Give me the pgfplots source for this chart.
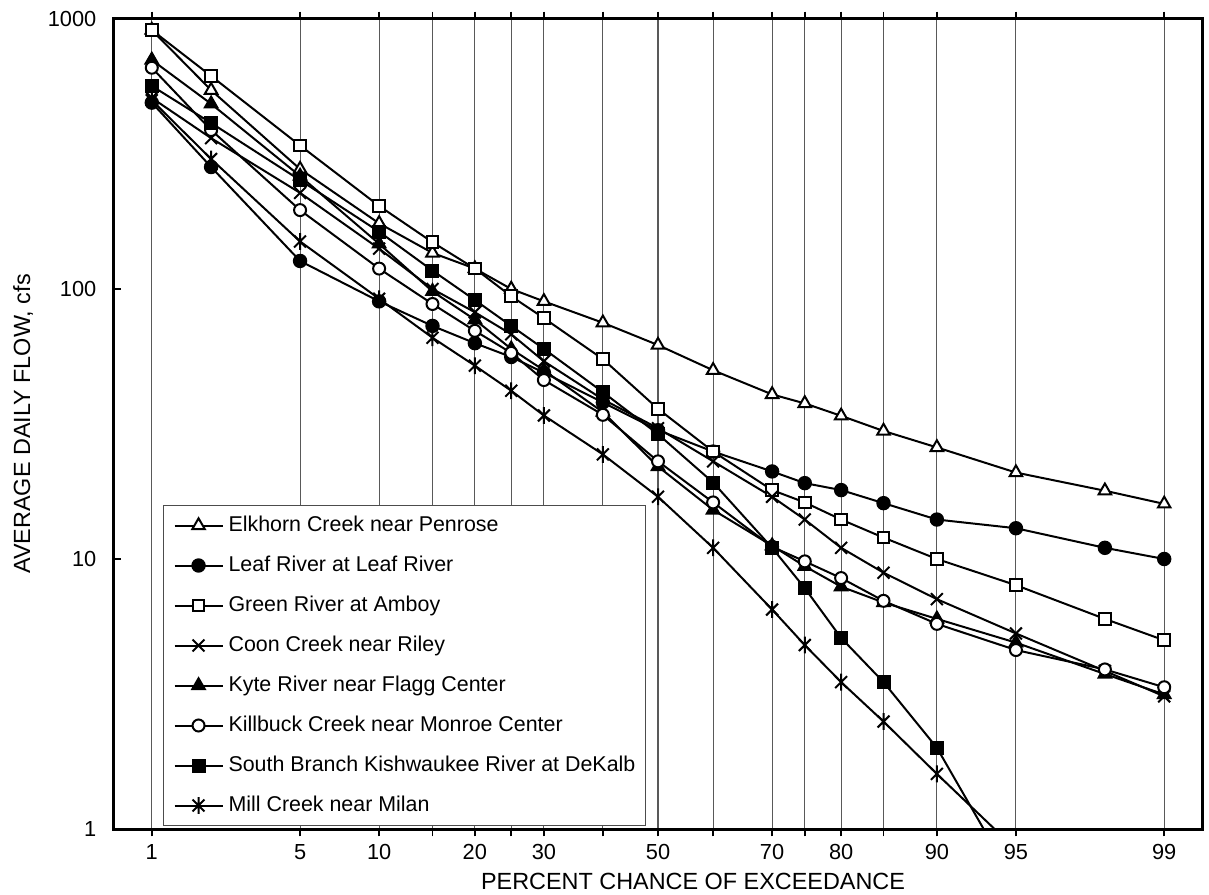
\documentclass[border=0pt]{standalone}
\usepackage{fontspec}
\setmainfont{Liberation Sans}
\usepackage{pgfplots}
\usepackage{pgfplotstable}
\pgfplotsset{compat=1.18}
\pgfdeclareplotmark{xast}{%
  \pgfpathmoveto{\pgfqpoint{-.7071\pgfplotmarksize}{-.7071\pgfplotmarksize}}%
  \pgfpathlineto{\pgfqpoint{.7071\pgfplotmarksize}{.7071\pgfplotmarksize}}%
  \pgfpathmoveto{\pgfqpoint{-.7071\pgfplotmarksize}{.7071\pgfplotmarksize}}%
  \pgfpathlineto{\pgfqpoint{.7071\pgfplotmarksize}{-.7071\pgfplotmarksize}}%
  \pgfpathmoveto{\pgfqpoint{0pt}{-\pgfplotmarksize}}%
  \pgfpathlineto{\pgfqpoint{0pt}{\pgfplotmarksize}}%
  \pgfusepathqstroke}
% z = standard normal quantile of the percent chance of exceedance p
\pgfplotstableread{
p  z       elk   leaf  green coon  kyte  kill  sb    mill
1  -2.3263 910   490   910   510   705   660   565   500
2  -2.0537 545   283   615   362   485   388   412   303
5  -1.6449 278   127   340   227   262   196   253   150
10 -1.2816 175   90    203   141   147   119   163   92
15 -1.0364 136   73    149   100   98    88    117   66
20 -0.8416 119   63    119   82    77    70    91    52
25 -0.6745 100   56    94    68    60    58    73    42
30 -0.5244 90    49    78    54    50    46    60    34
40 -0.2533 75    38    55    39    35    34.2  41.5  24.4
50  0      62    30    36    30.5  22    23    29    17
60  0.2533 50    25    25    23    15.2  16.2  19.2  11
70  0.5244 40.7  21.1  18    17    11.2  11.1  11    6.5
75  0.6745 37.7  19.1  16.2  14    9.4   9.8   7.8   4.8
80  0.8416 33.9  18    14    11    7.9   8.5   5.1   3.5
85  1.0364 29.8  16.1  12    8.9   6.9   7     3.5   2.5
90  1.2816 25.9  14    10    7.1   6     5.75  2.0   1.6
95  1.6449 20.9  13    8     5.3   4.9   4.6   0.62  0.84
98  2.0537 17.9  11    6     3.85  3.75  3.9   nan   nan
99  2.3263 16    10    5     3.1   3.15  3.35  nan   nan
}\flowdata
\begin{document}
\fontsize{11}{13}\selectfont
\begin{tikzpicture}
\useasboundingbox (-57pt,-32.5pt) rectangle (547.5pt,414.5pt);
\begin{axis}[
  scale only axis, width=544pt, height=405pt,
  font=\fontsize{10.9}{13}\selectfont,
  xmin=-2.5, xmax=2.5,
  ymode=log, ymin=1, ymax=1000,
  xtick={-2.3263,-1.6449,-1.2816,-1.0364,-0.8416,-0.6745,-0.5244,-0.2533,0,0.2533,0.5244,0.6745,0.8416,1.0364,1.2816,1.6449,2.3263},
  xticklabels={1,5,10,,20,,30,,50,,70,,80,,90,95,99},
  ytick={1,10,100,1000},
  yticklabels={1,10,100,1000},
  yminorticks=false,
  xtick pos=both, xtick align=outside,
  ytick pos=left, ytick align=inside,
  major tick length=3.75pt,
  every tick/.style={black, line width=0.8pt},
  xmajorgrids,
  grid style={black!65, line width=0.55pt},
  axis line style={line width=1.5pt},
  yticklabel style={xshift=-5pt},
  xlabel={PERCENT CHANCE OF EXCEEDANCE},
  ylabel={AVERAGE DAILY FLOW, cfs},
  xlabel style={font=\fontsize{11.7}{14}\selectfont, at={(axis description cs:0.5322,-0.0753)}, anchor=base},
  ylabel style={font=\fontsize{11.7}{14}\selectfont, at={(axis description cs:-0.0772,0.5)}, anchor=base, rotate=0},
  every axis plot/.append style={black, line width=1pt, mark options={solid, line width=1pt}},
  legend cell align=left,
  legend style={at={(axis description cs:0.045,0.4)}, anchor=north west,
    draw=black!70, line width=0.6pt, fill=white,
    font=\fontsize{10.7}{13}\selectfont,
    inner xsep=5pt, inner ysep=4.7pt, row sep=9.5pt,
    nodes={inner sep=0pt, text height=8pt, text depth=2.5pt}},
  legend image code/.code={%
    \draw[mark repeat=2,mark phase=2,#1] plot coordinates {(0pt,0pt) (12pt,0pt) (24pt,0pt)};
    \path (26.5pt,0pt);},
]
\addplot[mark=triangle*, mark size=3.6pt, mark options={fill=white}] table[x=z,y=elk] {\flowdata};
\addlegendentry{Elkhorn Creek near Penrose}
\addplot[mark=*, mark size=3.1pt] table[x=z,y=leaf] {\flowdata};
\addlegendentry{Leaf River at Leaf River}
\addplot[mark=square*, mark size=2.9pt, mark options={fill=white}] table[x=z,y=green] {\flowdata};
\addlegendentry{Green River at Amboy}
\addplot[mark=x, mark size=4.2pt] table[x=z,y=coon] {\flowdata};
\addlegendentry{Coon Creek near Riley}
\addplot[mark=triangle*, mark size=3.6pt] table[x=z,y=kyte] {\flowdata};
\addlegendentry{Kyte River near Flagg Center}
\addplot[mark=*, mark size=3pt, mark options={fill=white}] table[x=z,y=kill] {\flowdata};
\addlegendentry{Killbuck Creek near Monroe Center}
\addplot[mark=square*, mark size=3pt] table[x=z,y=sb] {\flowdata};
\addlegendentry{South Branch Kishwaukee River at DeKalb}
\addplot[mark=xast, mark size=4.2pt] table[x=z,y=mill] {\flowdata};
\addlegendentry{Mill Creek near Milan}
\end{axis}
\end{tikzpicture}
\end{document}
